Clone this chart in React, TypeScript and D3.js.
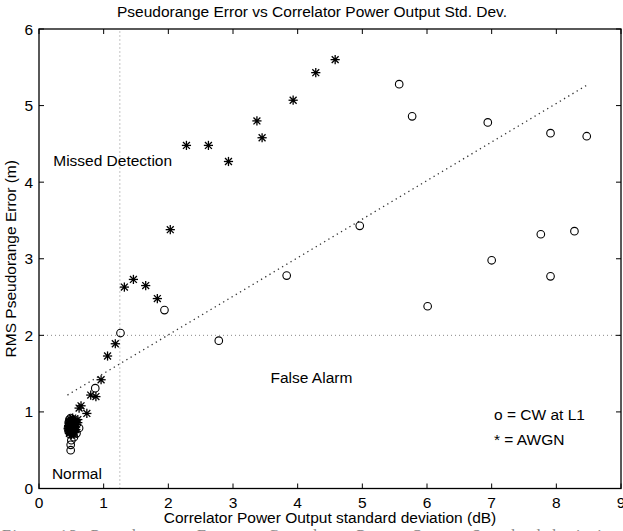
import React from "react";
import * as d3 from "d3";

const W = 623;
const H = 531;

const title = "Pseudorange Error vs Correlator Power Output Std. Dev.";
const xLabel = "Correlator Power Output standard deviation (dB)";
const yLabel = "RMS Pseudorange Error (m)";
const caption = "Figure 13:  Pseudorange  Error  vs  Correlator  Power  Output  Standard  deviation";

const xTicks = [0, 1, 2, 3, 4, 5, 6, 7, 8, 9];
const yTicks = [0, 1, 2, 3, 4, 5, 6];

// CW at L1 (circles)
const cwX = [5.57, 5.77, 6.94, 7.91, 8.47, 7.76, 8.28, 7.0, 7.91, 6.01, 4.96, 3.83, 1.94, 1.26, 2.78, 0.87,
  0.62, 0.49, 0.49, 0.5, 0.54, 0.58, 0.46, 0.48, 0.5, 0.52, 0.47, 0.49, 0.51, 0.53, 0.46, 0.48, 0.55, 0.5, 0.47, 0.52, 0.45, 0.49, 0.51, 0.56];
const cwY = [5.28, 4.86, 4.78, 4.64, 4.6, 3.32, 3.36, 2.98, 2.77, 2.38, 3.43, 2.78, 2.33, 2.03, 1.93, 1.31,
  0.79, 0.5, 0.57, 0.63, 0.67, 0.72, 0.75, 0.8, 0.84, 0.88, 0.9, 0.92, 0.78, 0.82, 0.86, 0.71, 0.76, 0.74, 0.83, 0.86, 0.8, 0.77, 0.89, 0.81];

// AWGN (asterisks)
const awX = [4.58, 4.28, 3.93, 3.37, 3.45, 2.62, 2.93, 2.28, 2.03, 1.46, 1.32, 1.65, 1.83, 1.18, 1.06, 0.96, 0.8, 0.88, 0.65, 0.62, 0.74,
  0.47, 0.49, 0.52, 0.55, 0.58, 0.6, 0.46, 0.5, 0.53, 0.56, 0.48, 0.51, 0.54, 0.57, 0.47, 0.5, 0.53, 0.49, 0.52, 0.6, 0.45,
  0.46, 0.48, 0.5, 0.52, 0.54, 0.47, 0.51, 0.55, 0.49, 0.53];
const awY = [5.6, 5.43, 5.07, 4.8, 4.58, 4.48, 4.27, 4.48, 3.38, 2.73, 2.63, 2.65, 2.48, 1.89, 1.73, 1.42, 1.22, 1.2, 1.08, 1.05, 0.98,
  0.72, 0.74, 0.78, 0.8, 0.84, 0.86, 0.82, 0.86, 0.9, 0.88, 0.76, 0.8, 0.83, 0.77, 0.88, 0.7, 0.73, 0.9, 0.92, 0.9, 0.78,
  0.76, 0.8, 0.74, 0.82, 0.79, 0.85, 0.76, 0.85, 0.82, 0.71];

// Linear fit (dotted) endpoints
const fitX = [0.44, 8.48];
const fitY = [1.22, 5.27];

// Threshold lines
const xThreshold = 1.25;
const yThreshold = 2;

const annotations = [
  { text: "Missed Detection", x: 0.22, y: 4.28 },
  { text: "False Alarm", x: 3.58, y: 1.45 },
  { text: "Normal", x: 0.2, y: 0.2 },
];
const legendLines = ["o = CW at L1", "* = AWGN"];

const left = 39, right = 621, top = 29, bottom = 488.5;
const FONT = "'Liberation Sans', Arial, Helvetica, sans-serif";
const FS = 15.5;

export default function App() {
  const x = d3.scaleLinear().domain([0, 9]).range([left, right]);
  const y = d3.scaleLinear().domain([0, 6]).range([bottom, top]);
  const line = d3.line<number>().x((_, i) => x(fitX[i])).y((_, i) => y(fitY[i]));
  const tl = 5;
  const r = 3.8;
  const s = 4.6;

  return (
    <div style={{ position: "absolute", left: 0, top: 0, width: W, height: H, overflow: "hidden", background: "#fff" }}>
      <svg width={W} height={H} style={{ display: "block" }} fontFamily={FONT}>
        <rect x={0} y={0} width={W} height={H} fill="#fff" />
        {/* threshold lines */}
        <line x1={x(xThreshold)} x2={x(xThreshold)} y1={y(0)} y2={y(6)} stroke="#888" strokeWidth={1} strokeDasharray="1 3" />
        <line x1={x(0)} x2={x(9)} y1={y(yThreshold)} y2={y(yThreshold)} stroke="#888" strokeWidth={1} strokeDasharray="1 3" />
        {/* fit line */}
        <path d={line([0, 1]) || ""} fill="none" stroke="#333" strokeWidth={1.3} strokeDasharray="1.3 3.6" />
        {/* circles */}
        {cwX.map((vx, i) => (
          <circle key={"c" + i} cx={x(vx)} cy={y(cwY[i])} r={r} fill="none" stroke="#000" strokeWidth={1.1} />
        ))}
        {/* asterisks */}
        {awX.map((vx, i) => {
          const cx = x(vx), cy = y(awY[i]);
          return (
            <g key={"a" + i} stroke="#000" strokeWidth={1.3}>
              <line x1={cx - s} x2={cx + s} y1={cy} y2={cy} />
              <line x1={cx} x2={cx} y1={cy - s} y2={cy + s} />
              <line x1={cx - s * 0.75} x2={cx + s * 0.75} y1={cy - s * 0.75} y2={cy + s * 0.75} />
              <line x1={cx - s * 0.75} x2={cx + s * 0.75} y1={cy + s * 0.75} y2={cy - s * 0.75} />
              <circle cx={cx} cy={cy} r={1.6} fill="#000" stroke="none" />
            </g>
          );
        })}
        {/* axes box */}
        <rect x={left} y={top} width={right - left} height={bottom - top} fill="none" stroke="#000" strokeWidth={1.3} />
        {xTicks.map((t) => (
          <g key={"xt" + t}>
            <line x1={x(t)} x2={x(t)} y1={bottom} y2={bottom - tl} stroke="#000" strokeWidth={1} />
            <line x1={x(t)} x2={x(t)} y1={top} y2={top + tl} stroke="#000" strokeWidth={1} />
            <text x={x(t)} y={bottom + 19} textAnchor="middle" fontSize={FS}>{t}</text>
          </g>
        ))}
        {yTicks.map((t) => (
          <g key={"yt" + t}>
            <line x1={left} x2={left + tl} y1={y(t)} y2={y(t)} stroke="#000" strokeWidth={1} />
            <line x1={right} x2={right - tl} y1={y(t)} y2={y(t)} stroke="#000" strokeWidth={1} />
            <text x={left - 6} y={y(t) + 5.5} textAnchor="end" fontSize={FS}>{t}</text>
          </g>
        ))}
        {annotations.map((a) => (
          <text key={a.text} x={x(a.x)} y={y(a.y) + 5.5} fontSize={FS}>{a.text}</text>
        ))}
        {legendLines.map((l, i) => (
          <text key={l} x={494} y={420 + i * 25} fontSize={FS}>{l}</text>
        ))}
        <text x={312} y={17} textAnchor="middle" fontSize={FS}>{title}</text>
        <text x={(left + right) / 2} y={523} textAnchor="middle" fontSize={FS}>{xLabel}</text>
        <text transform={`translate(16,${(top + bottom) / 2}) rotate(-90)`} textAnchor="middle" fontSize={FS}>{yLabel}</text>
        <text x={2} y={540.5} fontSize={16} fill="#888" fontFamily="'Liberation Serif', 'DejaVu Serif', serif" textLength={619} lengthAdjust="spacing">{caption}</text>
      </svg>
    </div>
  );
}
